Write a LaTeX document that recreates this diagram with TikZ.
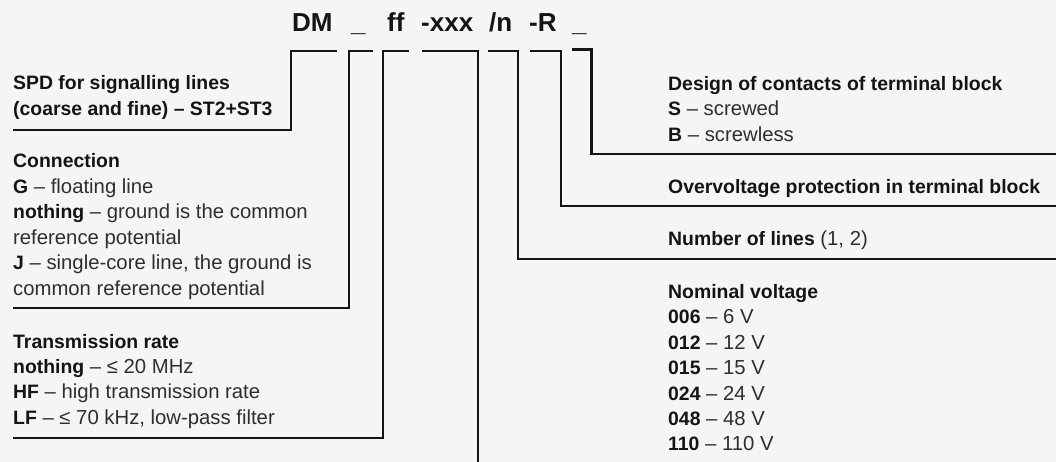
\documentclass[tikz,border=0pt]{standalone}
\usepackage{fontspec}
\setmainfont{Liberation Sans}
\definecolor{bg}{HTML}{F5F5F5}
\definecolor{ink}{HTML}{141414}
\definecolor{inklt}{HTML}{2E2E2E}
\newcommand\hb[1]{{\fontsize{19.4}{25}\selectfont\bfseries\color{ink}#1}}
\tikzset{
  ttl/.style={anchor=base west, inner sep=0pt, font=\fontsize{26}{30}\selectfont\bfseries, text=ink},
  txt/.style={anchor=base west, inner sep=0pt, font=\fontsize{20.3}{25}\selectfont, text=inklt},
  brk/.style={draw=ink, line width=2.6pt, line join=miter, line cap=butt}
}
\begin{document}
\begin{tikzpicture}[x=1pt,y=-1pt]
\fill[bg] (0,0) rectangle (1056,462);
\useasboundingbox (0,0) rectangle (1056,462);

% title code
\node[ttl] (tDM) at (292,32) {DM};
\node[ttl] (tU1) at (351,32) {\_};
\node[ttl] (tff) at (387,32) {ff};
\node[ttl] (txxx) at (421,32) {-xxx};
\node[ttl] (tn) at (489,32) {/n};
\node[ttl] (tR) at (529,32) {-R};
\node[ttl] (tU2) at (572,32) {\_};

% bracket corners
\coordinate (a0) at (337,51);  \coordinate (a1) at (291,51);  \coordinate (a2) at (291,130); \coordinate (a3) at (13,130);
\coordinate (b0) at (373,51);  \coordinate (b1) at (349,51);  \coordinate (b2) at (349,308); \coordinate (b3) at (13,308);
\coordinate (c0) at (409,51);  \coordinate (c1) at (383,51);  \coordinate (c2) at (383,438); \coordinate (c3) at (13,438);
\coordinate (d0) at (422,51);  \coordinate (d1) at (478,51);  \coordinate (d2) at (478,463);
\coordinate (e0) at (488,51);  \coordinate (e1) at (518,51);  \coordinate (e2) at (518,259); \coordinate (e3) at (1057,259);
\coordinate (f0) at (530,51);  \coordinate (f1) at (561,51);  \coordinate (f2) at (561,206); \coordinate (f3) at (1057,206);
\coordinate (g0) at (572,49.5);\coordinate (g1) at (591.5,49.5); \coordinate (g2) at (591.5,154); \coordinate (g3) at (1057,154);

\draw[brk] (a0) -- (a1) -- (a2) -- (a3);
\draw[brk] (b0) -- (b1) -- (b2) -- (b3);
\draw[brk] (c0) -- (c1) -- (c2) -- (c3);
\draw[brk] (d0) -- (d1) -- (d2);
\draw[brk] (e0) -- (e1) -- (e2) -- (e3);
\draw[brk] (f0) -- (f1) -- (f2) -- (f3);
\draw[brk] (g0) -- (g1) -- (g2) -- (g3);

% left: SPD
\node[txt] (s1) at (13,90) {\hb{SPD for signalling lines}};
\node[txt] (s2) at (13,115.3) {\hb{(coarse and fine) – ST2+ST3}};

% left: Connection
\node[txt] (k1) at (13,168) {\hb{Connection}};
\node[txt] (k2) at (13,193.4) {\hb{G} – floating line};
\node[txt] (k3) at (13,218.8) {\hb{nothing} – ground is the common};
\node[txt] (k4) at (13,244.2) {reference potential};
\node[txt] (k5) at (13,269.6) {\hb{J} – single-core line, the ground is};
\node[txt] (k6) at (13,295) {common reference potential};

% left: Transmission rate
\node[txt] (r1) at (13,348.5) {\hb{Transmission rate}};
\node[txt] (r2) at (13,373.7) {\hb{nothing} – ≤ 20 MHz};
\node[txt] (r3) at (13,398.9) {\hb{HF} – high transmission rate};
\node[txt] (r4) at (13,424.1) {\hb{LF} – ≤ 70 kHz, low-pass filter};

% right: Design
\node[txt] (d1t) at (668,90.5) {\hb{Design of contacts of terminal block}};
\node[txt] (d2t) at (668,115.8) {\hb{S} – screwed};
\node[txt] (d3t) at (668,141.1) {\hb{B} – screwless};

\node[txt] (ov) at (668,193.3) {\hb{Overvoltage protection in terminal block}};
\node[txt] (nl) at (668,245.7) {\hb{Number of lines} (1, 2)};

% right: Nominal voltage
\node[txt] (v0) at (668,298.5) {\hb{Nominal voltage}};
\node[txt] (v1) at (668,323.9) {\hb{006} – 6 V};
\node[txt] (v2) at (668,349.3) {\hb{012} – 12 V};
\node[txt] (v3) at (668,374.7) {\hb{015} – 15 V};
\node[txt] (v4) at (668,400.1) {\hb{024} – 24 V};
\node[txt] (v5) at (668,425.5) {\hb{048} – 48 V};
\node[txt] (v6) at (668,450.9) {\hb{110} – 110 V};
\end{tikzpicture}
\end{document}
